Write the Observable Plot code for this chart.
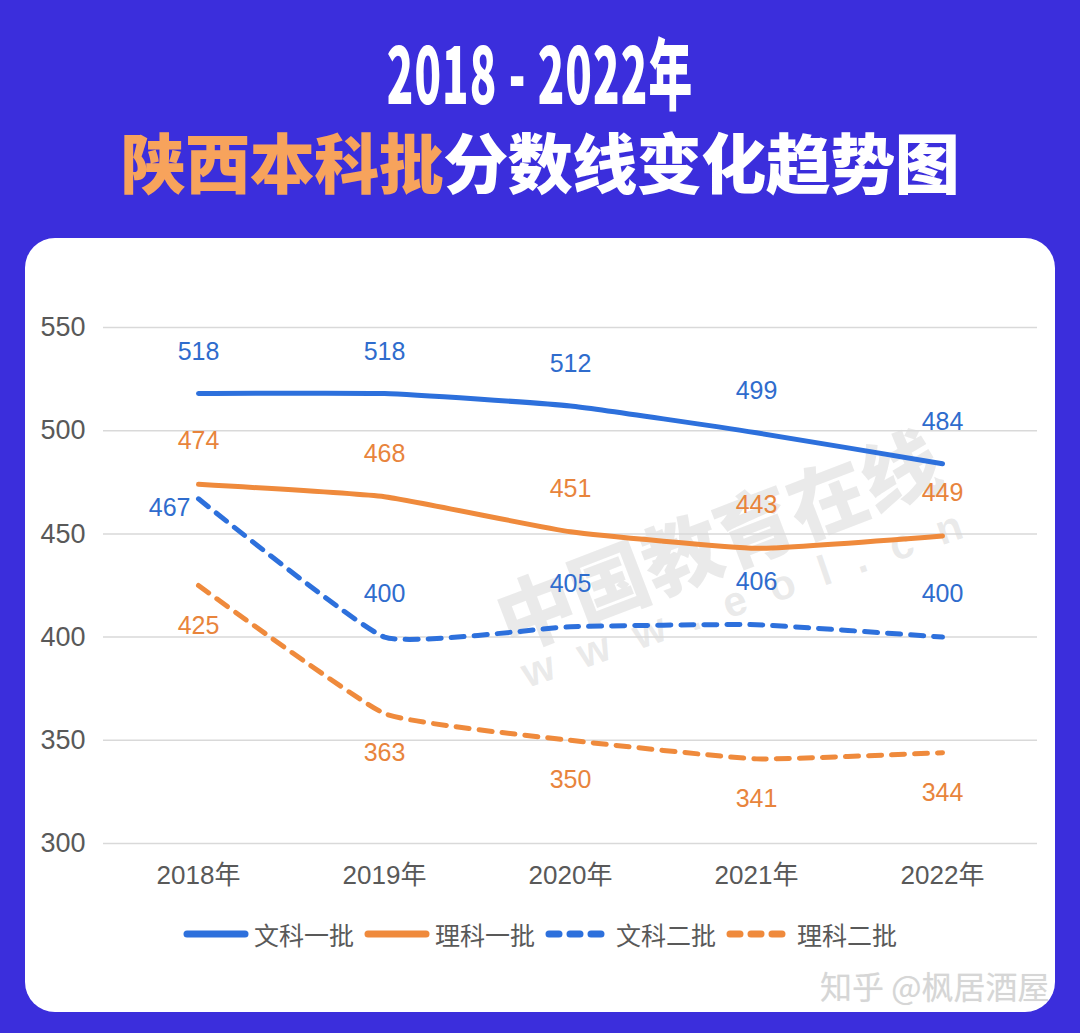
<!DOCTYPE html>
<html>
<head>
<meta charset="utf-8">
<script src="https://cdn.jsdelivr.net/npm/d3@7"></script>
<script src="https://cdn.jsdelivr.net/npm/@observablehq/plot@0.6"></script>
<style>
  html, body { margin: 0; padding: 0; }
  body { width: 1080px; height: 1033px; background: #3b2edc; position: relative; overflow: hidden;
         font-family: "Liberation Sans", "Noto Sans CJK SC", sans-serif; }
  .title1 { position: absolute; top: 30px; left: 0; width: 1080px; text-align: center; color: #fff;
            font-family: "Noto Sans CJK SC", sans-serif; font-weight: 900; font-size: 78px; line-height: 80px; letter-spacing: 2px;
            transform: scaleX(0.56); transform-origin: 540px 0; }
  .title2 { position: absolute; top: 122px; left: 0; width: 1080px; text-align: center; color: #fff;
            font-family: "Noto Sans CJK SC", sans-serif; font-weight: 900; font-size: 65px; line-height: 76px; letter-spacing: -0.5px; }
  .title2 .hl { color: #f7a35c; }
  .card { position: absolute; left: 25px; top: 238px; width: 1030px; height: 774px; background: #fff; border-radius: 30px; }
  #chart { position: absolute; left: 0; top: 238px; }
  .wm1 { position: absolute; left: 478px; top: 568px; font-family: "Noto Sans CJK SC", sans-serif; font-weight: 900;
         font-size: 78px; color: rgba(190,190,190,0.33); transform: rotate(-21deg); transform-origin: left top; white-space: nowrap; }
  .wm2 { position: absolute; left: 515px; top: 652px; font-family: "Liberation Sans", sans-serif; font-weight: 700;
         font-size: 42px; letter-spacing: 26px; color: rgba(190,190,190,0.33); transform: rotate(-19deg); transform-origin: left top; white-space: nowrap; }
  .legend { position: absolute; top: 916px; left: 0; width: 1080px; display: flex; justify-content: center; align-items: center;
            font-family: "Noto Sans CJK SC", sans-serif; font-size: 25px; color: #595959; }
  .legend .item { display: flex; align-items: center; margin: 0 5px; }
  .legend svg { margin-right: 5px; }
  .zhihu { position: absolute; left: 820px; top: 962px; font-family: "Noto Sans CJK SC", sans-serif; font-size: 32px; color: #d6d6d6;
           text-shadow: 0 0 1px rgba(0,0,0,0.08); white-space: nowrap; }
</style>
</head>
<body>
<div class="title1">2018 - 2022年</div>
<div class="title2"><span class="hl">陕西本科批</span>分数线变化趋势图</div>
<div class="card"></div>
<div class="wm1">中国教育在线</div>
<div class="wm2">www.eol.cn</div>
<div id="chart"></div>
<div class="legend" id="legend"></div>
<div class="zhihu">知乎 @枫居酒屋</div>
<script>
const years = ["2018年", "2019年", "2020年", "2021年", "2022年"];
const seriesNames = ["文科一批", "理科一批", "文科二批", "理科二批"];
const wenke1 = [518, 518, 512, 499, 484];
const like1 = [474, 468, 451, 443, 449];
const wenke2 = [467, 400, 405, 406, 400];
const like2 = [425, 363, 350, 341, 344];
const yTicks = [300, 350, 400, 450, 500, 550];

const seriesValues = [wenke1, like1, wenke2, like2];
const seriesColors = ["#2d70dc", "#ef8a3c", "#2d70dc", "#ef8a3c"];
const labelColors = ["#2f6ccd", "#e8843c", "#2f6ccd", "#e8843c"];
const seriesDash = [null, null, "13,10", "13,10"];

const rows = [];
seriesNames.forEach((s, i) => years.forEach((y, j) => rows.push({series: s, year: y, value: seriesValues[i][j], idx: j})));
const of = s => rows.filter(d => d.series === s);

const LF = 25;
const marks = [
  Plot.ruleY(yTicks, {stroke: "#d9d9d9", strokeWidth: 1.5}),
  Plot.axisY({ticks: yTicks, tickSize: 0, tickPadding: 18, fontSize: 27}),
  Plot.axisX({tickSize: 0, tickPadding: 22, fontSize: 26, label: null}),
];
seriesNames.forEach((s, i) => {
  marks.push(Plot.line(of(s), {x: "year", y: "value", stroke: seriesColors[i], strokeWidth: 5,
    strokeDasharray: seriesDash[i], strokeLinecap: "round", strokeLinejoin: "round", curve: "cardinal", tension: 0.6}));
});
// labels
marks.push(Plot.text(of("文科一批"), {x: "year", y: "value", text: "value", fill: labelColors[0], dy: -42, fontSize: LF}));
marks.push(Plot.text(of("理科一批"), {x: "year", y: "value", text: "value", fill: labelColors[1], dy: -43, fontSize: LF}));
marks.push(Plot.text(of("文科二批").filter(d => d.idx > 0), {x: "year", y: "value", text: "value", fill: labelColors[2], dy: -43, fontSize: LF}));
marks.push(Plot.text(of("文科二批").filter(d => d.idx === 0), {x: "year", y: "value", text: "value", fill: labelColors[2], dx: -8, dy: 9, textAnchor: "end", fontSize: LF}));
marks.push(Plot.text(of("理科二批"), {x: "year", y: "value", text: "value", fill: labelColors[3], dy: 40, fontSize: LF}));

const chart = Plot.plot({
  width: 1080,
  height: 680,
  marginLeft: 103,
  marginRight: 43,
  marginTop: 89,
  marginBottom: 75,
  x: {type: "point", domain: years, padding: 0.5, label: null},
  y: {domain: [300, 550], label: null},
  style: {background: "transparent", color: "#595959", fontFamily: "'Liberation Sans', 'Noto Sans CJK SC', sans-serif", overflow: "visible"},
  marks
});
document.getElementById("chart").appendChild(chart);

// legend
const legend = document.getElementById("legend");
seriesNames.forEach((s, i) => {
  const item = document.createElement("div");
  item.className = "item";
  const dash = seriesDash[i] ? `stroke-dasharray="10,11"` : "";
  item.innerHTML = `<svg width="66" height="12"><line x1="4" y1="6" x2="62" y2="6" stroke="${seriesColors[i]}" stroke-width="7" stroke-linecap="round" ${dash}/></svg><span>${s}</span>`;
  legend.appendChild(item);
});
</script>
</body>
</html>
